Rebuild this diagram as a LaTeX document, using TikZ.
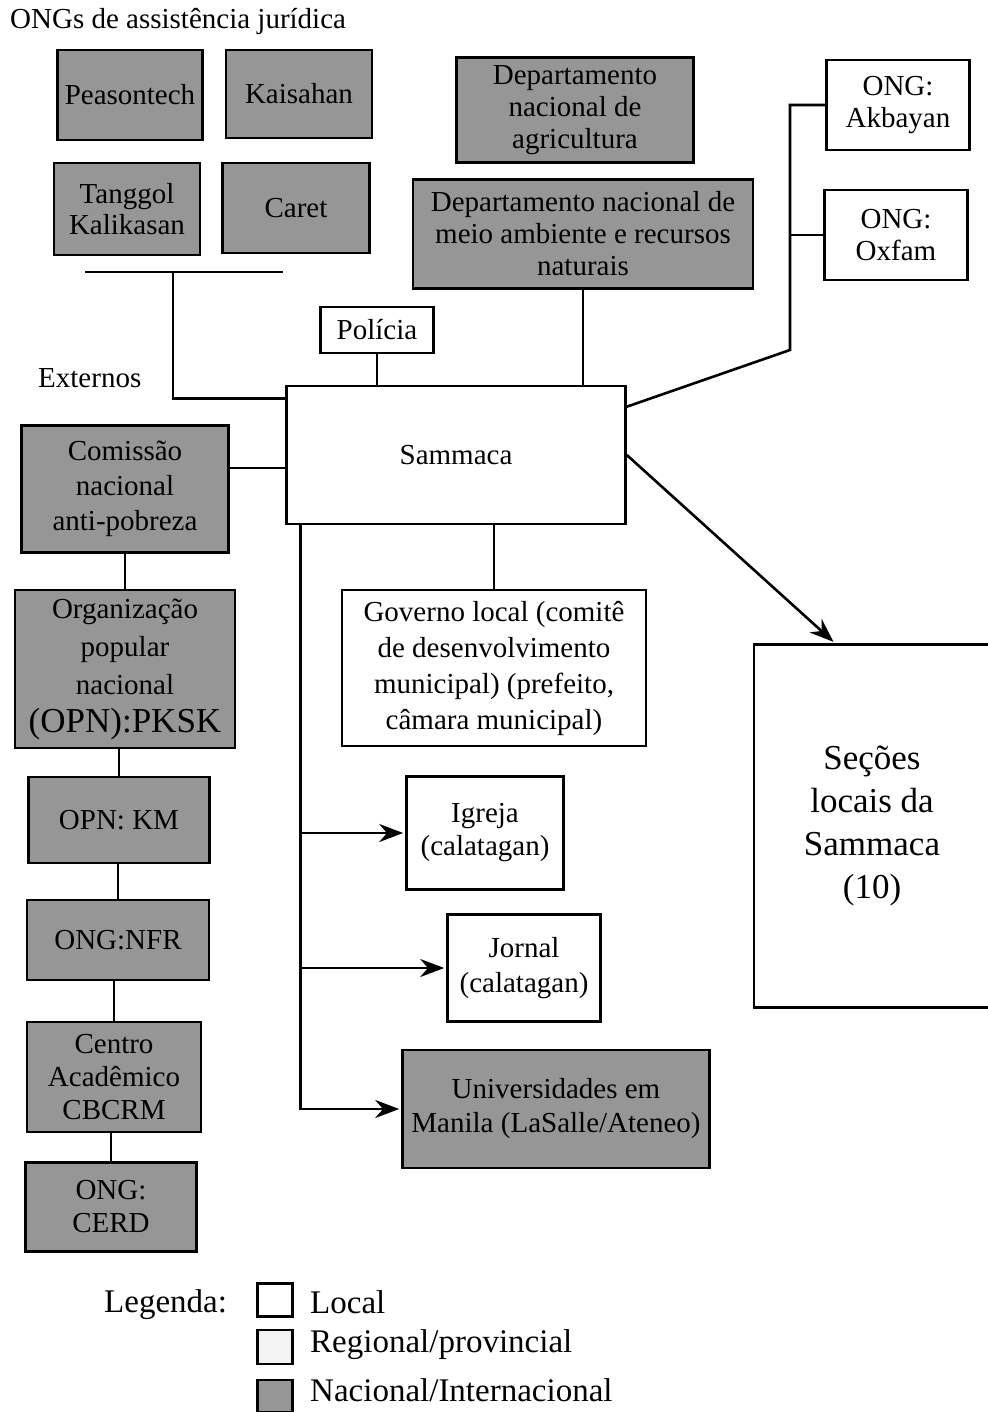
\documentclass[tikz,border=0pt]{standalone}
\usepackage{fontspec}
\setmainfont{Liberation Serif}
\usepackage{tikz}
\usetikzlibrary{arrows.meta}
\definecolor{natgray}{RGB}{150,150,150}
\definecolor{reggray}{RGB}{243,243,243}

\begin{document}
\begin{tikzpicture}[
  x=1pt, y=-1pt,
  loc/.style={draw, line width=2.6pt, fill=white, align=center, inner sep=0pt,
    font=\fontsize{29}{35}\selectfont},
  nat/.style={loc, fill=natgray},
  txt/.style={anchor=west, inner sep=0pt, font=\fontsize{29}{35}\selectfont},
  leg/.style={txt, font=\fontsize{33}{38}\selectfont},
  link/.style={line width=2.6pt},
  arr/.style={link, -{Stealth[length=24pt, width=18pt]}, shorten >=2pt}
]
\useasboundingbox (0,0) rectangle (987,1412);

\node[txt] (ongs) at (10,22) {ONGs de assistência jurídica};
\node[nat, minimum width=145pt, minimum height=90pt] (peas) at (130,95) {Peasontech};
\node[nat, minimum width=146pt, minimum height=88pt] (kais) at (299,94) {Kaisahan};
\node[nat, minimum width=146pt, minimum height=92pt, font=\fontsize{29}{31}\selectfont] (tang) at (127,209) {Tanggol\\Kalikasan};
\node[nat, minimum width=147pt, minimum height=90pt] (caret) at (296,208) {Caret};
\coordinate (barl) at (85,272);
\coordinate (barr) at (283,272);
\coordinate (barm) at (173,272);
\node[txt] (ext) at (38,378) {Externos};

\node[loc, minimum width=339pt, minimum height=138pt] (samm) at (456,455) {Sammaca};
\node[loc, minimum width=113pt, minimum height=46pt] (pol) at (377,330) {Polícia};
\node[nat, minimum width=237pt, minimum height=105pt, font=\fontsize{29}{32}\selectfont] (agri) at (575,110) {Departamento\\nacional de\\agricultura};
\node[nat, minimum width=340pt, minimum height=109pt, font=\fontsize{29}{32}\selectfont] (denr) at (583,234) {Departamento nacional de\\meio ambiente e recursos\\naturais};
\node[loc, minimum width=143pt, minimum height=90pt, font=\fontsize{29}{32}\selectfont] (akb) at (898,105) {ONG:\\Akbayan};
\node[loc, minimum width=143pt, minimum height=90pt, font=\fontsize{29}{32}\selectfont] (oxf) at (896,235) {ONG:\\Oxfam};
\coordinate (rbus) at (790,350);

% coluna da esquerda
\node[nat, minimum width=207pt, minimum height=127pt] (com) at (125,489) {Comissão\\nacional\\anti-pobreza};
\node[nat, minimum width=220pt, minimum height=158pt, font=\fontsize{29}{38}\selectfont] (opn) at (125,669) {Organização\\popular\\nacional\\{\fontsize{35}{38}\selectfont(OPN):PKSK}};
\node[nat, minimum width=181pt, minimum height=86pt] (km) at (119,820) {OPN: KM};
\node[nat, minimum width=182pt, minimum height=80pt] (nfr) at (118,940) {ONG:NFR};
\node[nat, minimum width=174pt, minimum height=110pt, font=\fontsize{29}{33}\selectfont] (cad) at (114,1077) {Centro\\Acadêmico\\CBCRM};
\node[nat, minimum width=171pt, minimum height=89pt, font=\fontsize{29}{33}\selectfont] (cerd) at (111,1207) {ONG:\\CERD};

% abaixo da Sammaca
\node[loc, minimum width=304pt, minimum height=156pt, font=\fontsize{29}{36}\selectfont] (gov) at (494,668) {Governo local (comitê\\de desenvolvimento\\municipal) (prefeito,\\câmara municipal)};
\node[loc, minimum width=157pt, minimum height=113pt, font=\fontsize{29}{33}\selectfont] (igr) at (485,833) {Igreja\\(calatagan)};
\node[loc, minimum width=153pt, minimum height=107pt] (jor) at (524,968) {Jornal\\(calatagan)};
\node[nat, minimum width=307pt, minimum height=118pt, font=\fontsize{29}{34}\selectfont] (uni) at (556,1109) {Universidades em\\Manila (LaSalle/Ateneo)};
\node[loc, minimum width=236pt, minimum height=363pt, font=\fontsize{35}{43}\selectfont] (sec) at (872,826) {Seções\\locais da\\Sammaca\\(10)};
\coordinate (lbus) at ([xshift=15pt]samm.south west);

% legenda
\node[leg] (legt) at (104,1305) {Legenda:};
\node[loc, minimum width=35pt, minimum height=33pt] (lloc) at (275,1300) {};
\node[loc, fill=reggray, minimum width=35pt, minimum height=34pt] (lreg) at (275,1347) {};
\node[nat, minimum width=35pt, minimum height=32pt] (lnat) at (275,1396) {};
\node[leg] (tloc) at (310,1302) {Local};
\node[leg] (treg) at (310,1345) {Regional/provincial};
\node[leg] (tnat) at (310,1390) {Nacional/Internacional};

% ligacoes
\draw[link] (barl) -- (barr);
\draw[link] (barm) |- ([yshift=-14pt]samm.north west);
\draw[link] (pol.south) -- (pol.south |- samm.north);
\draw[link] (denr.south) -- (denr.south |- samm.north);
\draw[link] (akb.west) -| (rbus) -- ([yshift=-22pt]samm.north east);
\draw[link] (oxf.west) -- (oxf.west -| rbus);
\draw[arr] (samm.east) -- ([xshift=-37pt]sec.north);
\draw[link] ([yshift=21pt]com.east) -- ([yshift=21pt]com.east -| samm.west);
\draw[link] (opn.north) -- (opn.north |- com.south);
\draw[link] (km.north) -- (km.north |- opn.south);
\draw[link] (nfr.north) -- (nfr.north |- km.south);
\draw[link] (cad.north) -- (cad.north |- nfr.south);
\draw[link] (cerd.north) -- (cerd.north |- cad.south);
\draw[link] (gov.north) -- (gov.north |- samm.south);
\draw[arr] (lbus) |- (uni.west);
\draw[arr] (igr.west -| lbus) -- (igr.west);
\draw[arr] (jor.west -| lbus) -- (jor.west);
\end{tikzpicture}
\end{document}
